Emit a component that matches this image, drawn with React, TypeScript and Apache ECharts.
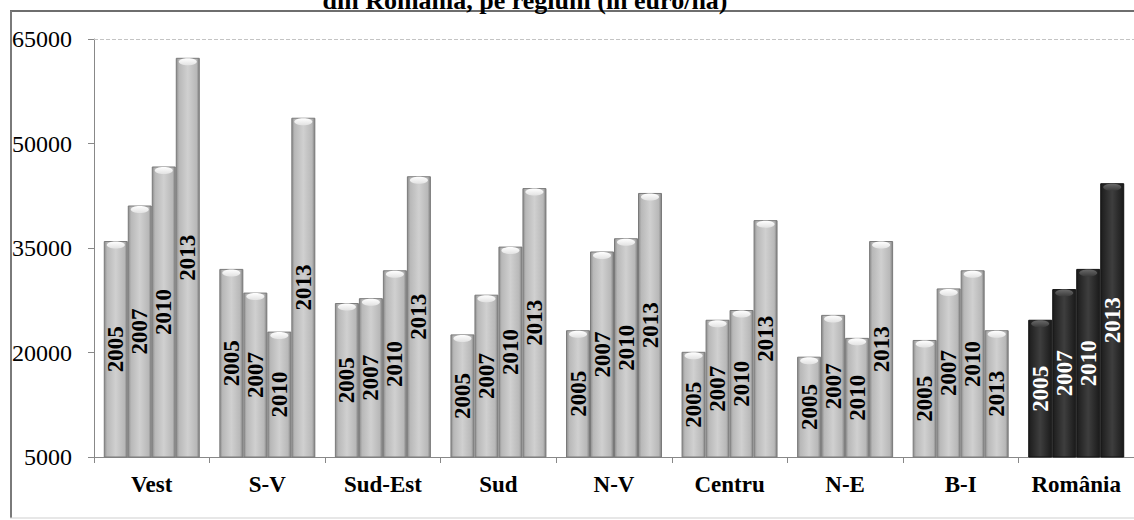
import React, { useEffect, useRef } from "react";
import * as echarts from "echarts";

const regions = ["Vest", "S-V", "Sud-Est", "Sud", "N-V", "Centru", "N-E", "B-I", "România"];
const years = ["2005", "2007", "2010", "2013"];
const v2005 = [36000, 32000, 27100, 22600, 23200, 20100, 19400, 21800, 24700];
const v2007 = [41100, 28600, 27800, 28300, 34500, 24700, 25400, 29200, 29100];
const v2010 = [46700, 23000, 31800, 35200, 36400, 26100, 22100, 31800, 32000];
const v2013 = [62300, 53700, 45300, 43600, 42900, 39000, 36000, 23200, 44300];
const seriesValues = [v2005, v2007, v2010, v2013];
const yTicks = { min: 5000, max: 65000, interval: 15000 };
const titleText = "din România, pe regiuni (în euro/ha)";

const FONT = "'Liberation Serif', 'Times New Roman', serif";
const BAR_W = 24;

const greyGrad = {
  type: "linear", x: 0, y: 0, x2: 1, y2: 0,
  colorStops: [
    { offset: 0, color: "#8c8c8c" },
    { offset: 0.12, color: "#b8b8b8" },
    { offset: 0.5, color: "#d0d0d0" },
    { offset: 0.88, color: "#b8b8b8" },
    { offset: 1, color: "#808080" },
  ],
};
const darkGrad = {
  type: "linear", x: 0, y: 0, x2: 1, y2: 0,
  colorStops: [
    { offset: 0, color: "#1c1c1c" },
    { offset: 0.5, color: "#3e3e3e" },
    { offset: 1, color: "#1a1a1a" },
  ],
};

export default function App() {
  const ref = useRef<HTMLDivElement>(null);
  useEffect(() => {
    if (!ref.current) return;
    const chart = echarts.init(ref.current, null, { renderer: "svg" });
    const series: any[] = years.map((yr, si) => ({
      name: yr,
      type: "bar",
      barWidth: BAR_W,
      barGap: "0%",
      data: seriesValues[si].map((v, i) =>
        regions[i] === "România"
          ? { value: v, itemStyle: { color: darkGrad, borderColor: "#111" }, label: { color: "#fff" } }
          : v
      ),
      itemStyle: { color: greyGrad, borderColor: "#7a7a7a", borderWidth: 1 },
      label: {
        show: true,
        position: "inside",
        rotate: 90,
        formatter: yr,
        fontFamily: FONT,
        fontWeight: "bold",
        fontSize: 23,
        color: "#000",
      },
      markLine: si === 0 ? {
        silent: true,
        symbol: "none",
        label: { show: false },
        lineStyle: { type: "dashed", color: "#c4c4c4", width: 1 },
        data: [{ yAxis: yTicks.max }],
      } : undefined,
    }));
    const capData: number[][] = [];
    seriesValues.forEach((vals, si) => vals.forEach((v, ci) => capData.push([ci, si, v])));
    series.push({
      type: "custom",
      silent: true,
      z: 3,
      encode: { x: 0, y: 2 },
      data: capData,
      renderItem: (params: any, api: any) => {
        const ci = api.value(0);
        const si = api.value(1);
        const pt = api.coord([ci, api.value(2)]);
        const cx = pt[0] + (si - 1.5) * BAR_W;
        const dark = regions[ci] === "România";
        return {
          type: "ellipse",
          shape: { cx, cy: pt[1] + 4, rx: 9, ry: 3.5 },
          style: {
            fill: {
              type: "linear", x: 0, y: 0, x2: 0, y2: 1,
              colorStops: dark
                ? [{ offset: 0, color: "#6a6a6a" }, { offset: 1, color: "#3a3a3a" }]
                : [{ offset: 0, color: "#ffffff" }, { offset: 1, color: "#e2e2e2" }],
            },
          },
        };
      },
    });
    chart.setOption({
      animation: false,
      backgroundColor: "#fff",
      grid: { left: 94, right: -5, top: 39, bottom: 63 },
      graphic: [
        {
          type: "line",
          shape: { x1: 10, y1: 11, x2: 1134, y2: 11 },
          style: { stroke: "#6e6e6e", lineWidth: 2 },
          silent: true,
        },
        {
          type: "line",
          shape: { x1: 11, y1: 11, x2: 11, y2: 518 },
          style: { stroke: "#7a7a7a", lineWidth: 2 },
          silent: true,
        },
        {
          type: "line",
          shape: { x1: 10, y1: 518, x2: 1134, y2: 518 },
          style: { stroke: "#cfcfcf", lineWidth: 1 },
          silent: true,
        },
        {
          type: "text",
          x: 525,
          y: 0,
          style: {
            text: titleText,
            fontFamily: FONT,
            fontWeight: "bold",
            fontSize: 26,
            fill: "#000",
            textAlign: "center",
            textVerticalAlign: "middle",
          },
          silent: true,
        },
      ],
      xAxis: {
        type: "category",
        data: regions,
        axisLine: { lineStyle: { color: "#888", width: 1 } },
        axisTick: { show: true, length: 6, lineStyle: { color: "#888" } },
        axisLabel: { interval: 0, fontFamily: FONT, fontWeight: "bold", fontSize: 23, color: "#000", margin: 16 },
      },
      yAxis: {
        type: "value",
        min: yTicks.min,
        max: yTicks.max,
        interval: yTicks.interval,
        axisLine: { show: true, lineStyle: { color: "#888", width: 1 } },
        axisTick: { show: true, length: 6, lineStyle: { color: "#888" } },
        splitLine: { show: false },
        axisLabel: {
          fontFamily: FONT, fontSize: 24, color: "#000", margin: 22,
          formatter: (v: number) => String(v),
        },
      },
      series,
    });
    return () => chart.dispose();
  }, []);
  return <div ref={ref} style={{ width: 1134, height: 520, position: "absolute", left: 0, top: 0 }} />;
}
